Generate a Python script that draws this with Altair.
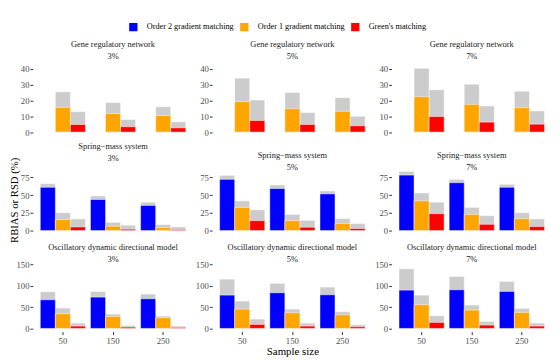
import altair as alt
import pandas as pd

models = ["Gene regulatory network", "Spring\u2212mass system", "Oscillatory dynamic directional model"]
noises = ["3%", "5%", "7%"]
sizes = ["50", "150", "250"]
methods = ["Order 2 gradient matching", "Order 1 gradient matching", "Green's matching"]
colors = ["#0000FF", "#FFA500", "#FF0000"]

# values ordered: noise 3% (n=50,150,250), 5% (...), 7% (...)
grn_o1_rbias = [15.6, 11.7, 10.4, 19.2, 14.8, 13.1, 22.3, 17.5, 15.4]
grn_o1_rsd = [25.4, 18.6, 16.0, 34.0, 25.0, 21.7, 40.2, 30.2, 25.8]
grn_gr_rbias = [4.8, 3.4, 2.7, 7.3, 4.8, 4.0, 9.8, 6.3, 5.0]
grn_gr_rsd = [12.9, 7.9, 6.5, 20.2, 12.3, 10.0, 26.7, 16.5, 13.3]

sms_o2_rbias = [61.0, 43.8, 35.4, 72.2, 59.2, 51.7, 78.2, 67.5, 61.0]
sms_o2_rsd = [66.1, 48.9, 40.0, 77.8, 64.3, 55.9, 83.4, 72.2, 65.2]
sms_o1_rbias = [15.4, 6.1, 4.2, 32.6, 14.0, 9.8, 41.9, 22.8, 16.8]
sms_o1_rsd = [25.2, 11.6, 8.4, 41.9, 22.8, 16.8, 53.1, 32.6, 25.2]
sms_gr_rbias = [5.1, 1.9, 1.4, 14.0, 4.7, 2.8, 23.8, 8.8, 5.6]
sms_gr_rsd = [16.3, 7.5, 5.1, 29.3, 14.4, 9.8, 40.0, 21.0, 16.3]

odd_o2_rbias = [67.2, 73.4, 69.5, 78.1, 83.6, 78.9, 89.8, 90.6, 86.7]
odd_o2_rsd = [85.9, 86.7, 80.5, 115.6, 105.5, 96.9, 139.8, 121.9, 110.2]
odd_o1_rbias = [34.4, 28.1, 25.0, 45.3, 36.7, 32.0, 55.5, 43.0, 37.5]
odd_o1_rsd = [47.7, 33.6, 28.9, 64.1, 45.3, 39.0, 78.1, 54.7, 46.9]
odd_gr_rbias = [5.5, 3.1, 2.3, 9.4, 5.5, 3.9, 14.1, 7.8, 5.5]
odd_gr_rsd = [12.5, 7.0, 5.5, 21.9, 12.5, 8.6, 29.7, 16.4, 12.5]

y_domains = [[-2.1, 40.4], [-4.2, 90.8], [-7.5, 150.4]]
y_ticks = [[0, 10, 20, 30, 40], [0, 25, 50, 75], [0, 50, 100, 150]]
title_offsets = [4, -5, -3]

series = [
    (models[0], methods[1], grn_o1_rbias, grn_o1_rsd),
    (models[0], methods[2], grn_gr_rbias, grn_gr_rsd),
    (models[1], methods[0], sms_o2_rbias, sms_o2_rsd),
    (models[1], methods[1], sms_o1_rbias, sms_o1_rsd),
    (models[1], methods[2], sms_gr_rbias, sms_gr_rsd),
    (models[2], methods[0], odd_o2_rbias, odd_o2_rsd),
    (models[2], methods[1], odd_o1_rbias, odd_o1_rsd),
    (models[2], methods[2], odd_gr_rbias, odd_gr_rsd),
]
rows = []
for model, method, rb, rs in series:
    for k in range(9):
        rows.append({"model": model, "noise": noises[k // 3], "size": sizes[k % 3],
                     "method": method, "rbias": rb[k], "rsd": rs[k]})
df = pd.DataFrame(rows)

FONT = "Liberation Serif, Times New Roman, serif"
W, H = 162, 68
YTITLE = "RBIAS or RSD (%)"

panels = []
for i, model in enumerate(models):
    for j, noise in enumerate(noises):
        sub = df[(df.model == model) & (df.noise == noise)]
        if i == 2:
            xaxis = alt.Axis(title="Sample size" if j == 1 else None, domain=False, grid=False,
                             labelAngle=0, labelFont=FONT, labelFontSize=8.8, labelColor="#4d4d4d",
                             tickColor="#333333", tickSize=3, labelPadding=2,
                             titleFont=FONT, titleFontSize=11, titleFontWeight="normal",
                             titleColor="black", titlePadding=0)
        else:
            xaxis = None
        x = alt.X("size:N", sort=sizes,
                  scale=alt.Scale(domain=sizes, paddingInner=0.1, paddingOuter=0.15),
                  axis=xaxis)
        xo = alt.XOffset("method:N", sort=methods,
                         scale=alt.Scale(domain=methods, paddingInner=0, paddingOuter=0))
        ytitle = YTITLE if (i == 1 and j == 0) else None
        yaxis = alt.Axis(values=y_ticks[i], domain=False, grid=False, labelOverlap=False,
                         title=ytitle,
                         labelFont=FONT, labelFontSize=8.8, labelColor="#4d4d4d",
                         tickColor="#333333", tickSize=2.8, labelPadding=1,
                         titleFont=FONT, titleFontSize=10.8, titleFontWeight="normal",
                         titleColor="black", titlePadding=1)
        yscale = alt.Scale(domain=y_domains[i], nice=False, zero=False)
        base = alt.Chart(sub)
        grey = base.mark_bar(color="#cccccc", stroke="white", strokeWidth=0.6, strokeOpacity=0.8).encode(
            x=x, xOffset=xo,
            y=alt.Y("rsd:Q", scale=yscale, axis=yaxis, stack=None, title=ytitle),
        )
        colored = base.mark_bar(stroke="white", strokeWidth=0.6, strokeOpacity=0.8).encode(
            x=x, xOffset=xo,
            y=alt.Y("rbias:Q", stack=None, scale=yscale, axis=yaxis, title=ytitle),
            color=alt.Color("method:N", sort=methods,
                            scale=alt.Scale(domain=methods, range=colors),
                            legend=alt.Legend(title=None, orient="none", direction="horizontal",
                                              legendX=97, legendY=-46,
                                              symbolType="square", symbolSize=70,
                                              symbolStrokeWidth=0, symbolOpacity=1,
                                              labelFont=FONT, labelFontSize=8.3,
                                              labelColor="black", labelOffset=9,
                                              columnPadding=6)),
        )
        panel = alt.layer(grey, colored).properties(
            width=W, height=H,
            title=alt.TitleParams([model, noise], font=FONT, fontSize=8.5, fontWeight="normal",
                                  color="#1a1a1a", anchor="middle", offset=title_offsets[i],
                                  lineHeight=12, frame="group"),
        )
        panels.append(panel)

chart = alt.concat(*panels, columns=3, spacing={"row": 31, "column": 19}, bounds="flush").properties(
    padding={"left": 0, "top": 13, "right": 0, "bottom": 0}
).configure(font=FONT).configure_view(stroke=None).configure_axis(grid=False)

chart.save("out.html", embed_options={"renderer": "svg", "actions": False})
